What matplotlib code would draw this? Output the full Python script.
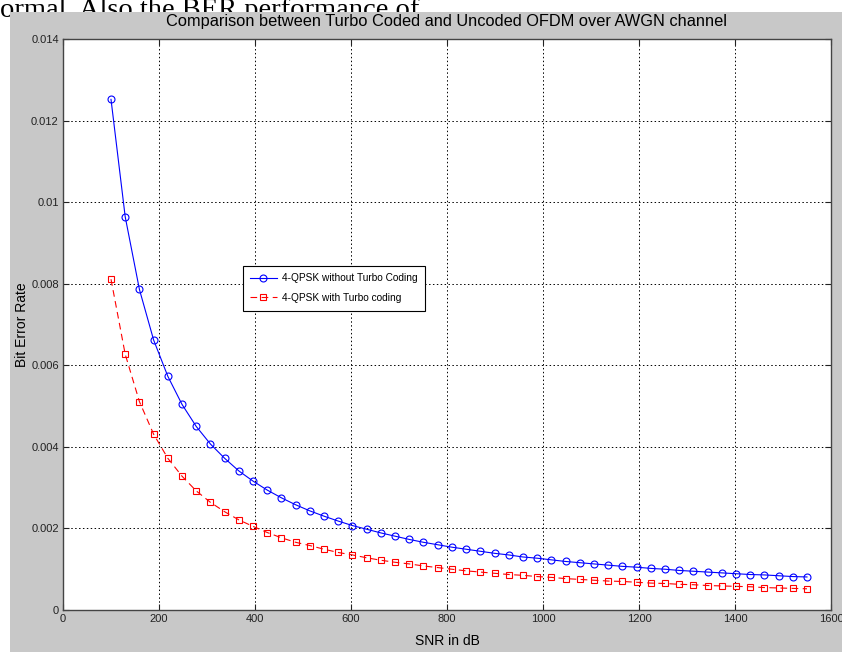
import matplotlib
matplotlib.use("Agg")
import matplotlib.pyplot as plt
from matplotlib import font_manager
from matplotlib.patches import Rectangle

# SNR points
snr = [100, 129.6, 159.2, 188.8, 218.4, 248.0, 277.6, 307.1, 336.7, 366.3,
       395.9, 425.5, 455.1, 484.7, 514.3, 543.9, 573.5, 603.1, 632.7, 662.2,
       691.8, 721.4, 751.0, 780.6, 810.2, 839.8, 869.4, 899.0, 928.6, 958.2,
       987.8, 1017.3, 1046.9, 1076.5, 1106.1, 1135.7, 1165.3, 1194.9, 1224.5, 1254.1,
       1283.7, 1313.3, 1342.9, 1372.4, 1402.0, 1431.6, 1461.2, 1490.8, 1520.4, 1550]

ber_uncoded = [0.01252, 0.00964, 0.00786, 0.00662, 0.00573, 0.00504, 0.00450, 0.00407, 0.00372, 0.00341,
               0.00316, 0.00294, 0.00275, 0.00258, 0.00243, 0.00230, 0.00218, 0.00207, 0.00198, 0.00189,
               0.00181, 0.00173, 0.00166, 0.00160, 0.00154, 0.00149, 0.00144, 0.00139, 0.00135, 0.00130,
               0.00127, 0.00123, 0.00119, 0.00116, 0.00113, 0.00110, 0.00107, 0.00105, 0.00102, 0.00100,
               0.00097, 0.00095, 0.00093, 0.00091, 0.00089, 0.00087, 0.00086, 0.00084, 0.00082, 0.00081]

ber_turbo = [0.00811, 0.00627, 0.00511, 0.00431, 0.00372, 0.00328, 0.00292, 0.00264, 0.00241, 0.00221,
             0.00205, 0.00190, 0.00177, 0.00166, 0.00158, 0.00149, 0.00141, 0.00135, 0.00128, 0.00122,
             0.00117, 0.00113, 0.00108, 0.00104, 0.00100, 0.00096, 0.00093, 0.00090, 0.00087, 0.00085,
             0.00082, 0.00080, 0.00077, 0.00075, 0.00073, 0.00071, 0.00070, 0.00068, 0.00066, 0.00065,
             0.00063, 0.00062, 0.00060, 0.00059, 0.00058, 0.00057, 0.00055, 0.00054, 0.00053, 0.00052]

xticks = [0, 200, 400, 600, 800, 1000, 1200, 1400, 1600]
yticks = [0, 0.002, 0.004, 0.006, 0.008, 0.01, 0.012, 0.014]
ytick_labels = ["0", "0.002", "0.004", "0.006", "0.008", "0.01", "0.012", "0.014"]

# narrow sans if we have it
names = {f.name for f in font_manager.fontManager.ttflist}
narrow = "Liberation Sans Narrow" if "Liberation Sans Narrow" in names else "Liberation Sans"

fig = plt.figure(figsize=(8.42, 6.52), dpi=100)
fig.patch.set_facecolor("white")

# grey matlab window, the page text above it peeks out
fig.add_artist(Rectangle((10 / 842, 0), 1, (652 - 12) / 652, transform=fig.transFigure,
                         facecolor="#c8c8c8", edgecolor="none", zorder=-1))
fig.text(0.0, 1 - 17 / 652, "ormal. Also the BER performance of", family="Liberation Serif",
         fontsize=20.5, ha="left", va="baseline", zorder=-2)

ax = fig.add_axes([63 / 842, 42 / 652, 768 / 842, 571 / 652])
ax.set_facecolor("white")

ax.plot(snr, ber_uncoded, "-o", color="#0000ff", lw=0.8, ms=5, mfc="none", mew=0.8,
        label="4-QPSK without Turbo Coding")
ax.plot(snr, ber_turbo, "--s", color="#ff0000", lw=0.8, ms=5, mfc="none", mew=0.8,
        dashes=(6, 4), label="4-QPSK with Turbo coding")

ax.set_xlim(0, 1600)
ax.set_ylim(0, 0.014)
ax.set_xticks(xticks)
ax.set_xticklabels([str(t) for t in xticks])
ax.set_yticks(yticks)
ax.set_yticklabels(ytick_labels)

ax.grid(True, color="black", linestyle=(0, (1.5, 2.5)), linewidth=0.7)
ax.tick_params(direction="in", length=4, width=0.8, top=True, right=True,
               labelsize=8, colors="#222222", pad=3)
for lab in ax.get_xticklabels() + ax.get_yticklabels():
    lab.set_family(narrow)
for sp in ax.spines.values():
    sp.set_color("#444444")
    sp.set_linewidth(1.0)

ax.set_title("Comparison between Turbo Coded and Uncoded OFDM over AWGN channel",
             family=narrow, fontsize=11.8, pad=9.5)
ax.set_xlabel("SNR in dB", family=narrow, fontsize=10)
ax.set_ylabel("Bit Error Rate", family=narrow, fontsize=10)
ax.xaxis.set_label_coords(0.5, -0.042)
ax.yaxis.set_label_coords(-0.053, 0.5)
ax.yaxis.label.set_va("center")

leg = ax.legend(loc="upper left", bbox_to_anchor=(0.234, 0.603),
                prop={"family": narrow, "size": 7.3}, fancybox=False, framealpha=1,
                edgecolor="black", borderpad=0.75, handlelength=2.6, handletextpad=0.5,
                labelspacing=0.95, borderaxespad=0)
leg.get_frame().set_linewidth(0.8)

fig.savefig("out.png", dpi=100)
